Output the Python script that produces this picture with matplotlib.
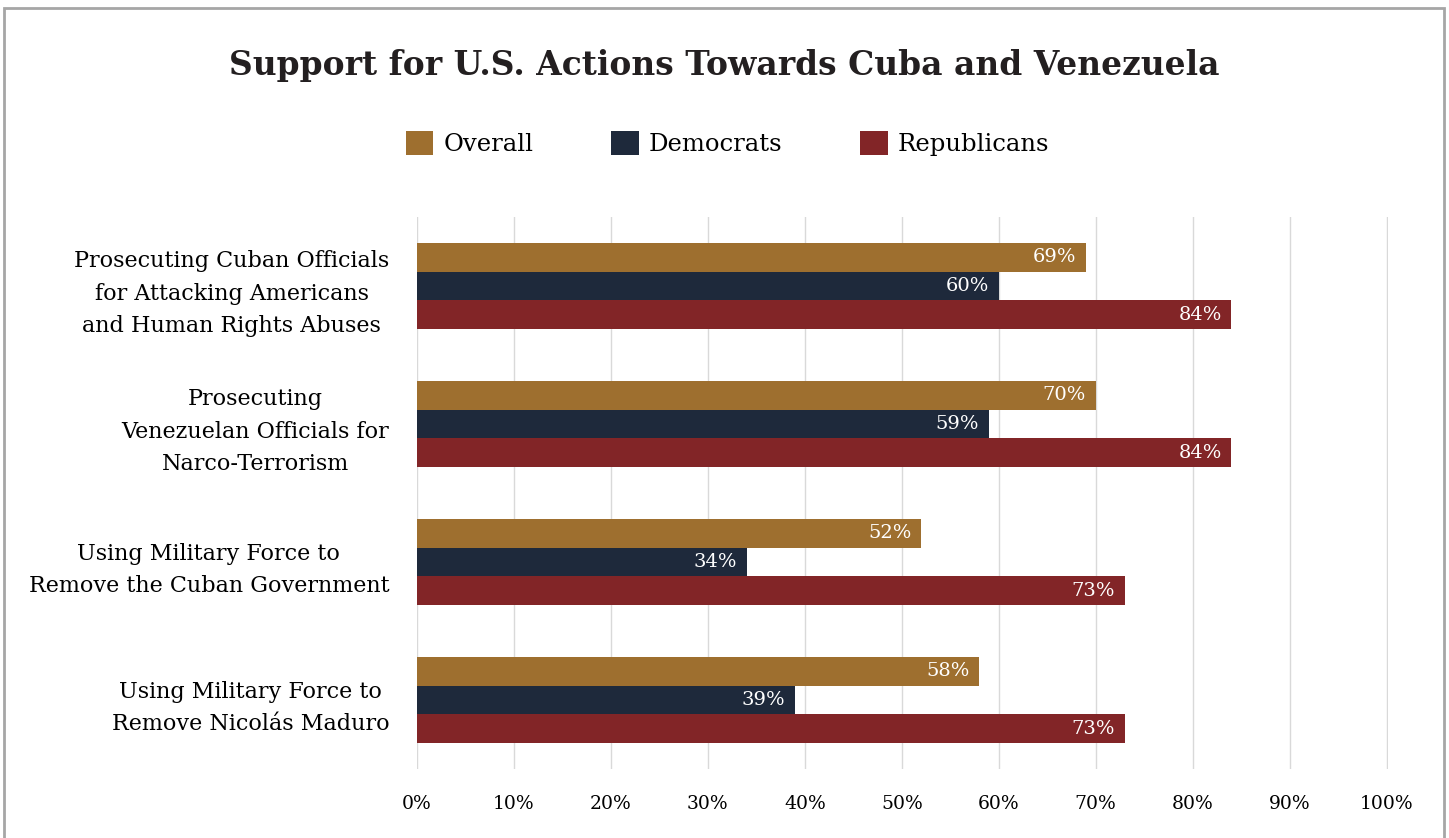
import numpy as np
import matplotlib.pyplot as plt
from matplotlib.patches import Rectangle

plt.rcParams['font.family'] = ['DejaVu Serif']

categories = [
    "Prosecuting Cuban Officials\nfor Attacking Americans\nand Human Rights Abuses",
    "Prosecuting\nVenezuelan Officials for\nNarco-Terrorism",
    "Using Military Force to\nRemove the Cuban Government",
    "Using Military Force to\nRemove Nicolás Maduro",
]
series = ["Overall", "Democrats", "Republicans"]
overall = [69, 70, 52, 58]
democrats = [60, 59, 34, 39]
republicans = [84, 84, 73, 73]
colors = ["#9E6F2F", "#1E293B", "#822527"]

fig = plt.figure(figsize=(14.49, 8.38), dpi=100)
ax = fig.add_axes([0.2878, 0.0823, 0.6701, 0.6587])

y = np.arange(len(categories))
h = 0.209
for i, (name, vals, c) in enumerate(zip(series, [overall, democrats, republicans], colors)):
    pos = y + (i - 1) * h
    ax.barh(pos, vals, height=h, color=c, label=name, zorder=3)
    for p, v in zip(pos, vals):
        ax.text(v - 1.0, p, f"{v}%", ha='right', va='center', color='white',
                fontsize=14, zorder=4)

ax.set_ylim(3.5, -0.5)
ax.set_xlim(0, 100.15)
ax.set_xticks(np.arange(0, 101, 10))
ax.set_xticklabels([f"{t}%" for t in range(0, 101, 10)], fontsize=13.5)
ax.set_yticks(y)
ax.set_yticklabels(categories, fontsize=16, multialignment='center', linespacing=1.6)
ax.tick_params(axis='both', length=0)
ax.tick_params(axis='x', pad=19)
ax.tick_params(axis='y', pad=20)
ax.grid(axis='x', color='#d9d9d9', linewidth=1, zorder=0)
for s in ax.spines.values():
    s.set_visible(False)

fig.text(0.5, 0.922, "Support for U.S. Actions Towards Cuba and Venezuela",
         ha='center', va='center', fontsize=23.7, fontweight='bold', color='#231f20')

handles, labels = ax.get_legend_handles_labels()
fig.legend(handles, labels, loc='center', bbox_to_anchor=(0.502, 0.829), ncol=3,
           frameon=False, fontsize=17.5, handlelength=1.15, handleheight=1.15,
           handletextpad=0.4, columnspacing=3.2)

fig.patches.append(Rectangle((0.0028, -0.05), 0.9937, 1.0405,
                             transform=fig.transFigure, fill=False,
                             edgecolor='#a6a6a6', linewidth=2))

fig.savefig("out.png", dpi=100)
